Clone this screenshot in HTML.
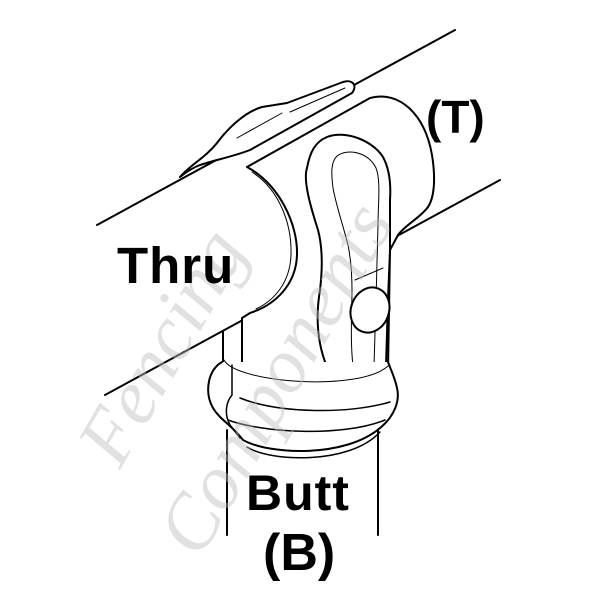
<!DOCTYPE html>
<html><head><style>
html,body{margin:0;padding:0;background:#fff;}
svg{display:block;}
.t{font-family:"Liberation Sans",sans-serif;font-weight:bold;fill:#000;}
</style></head><body>
<svg width="600" height="600" viewBox="0 0 600 600" xmlns="http://www.w3.org/2000/svg">
<g fill="none" stroke="#000" stroke-width="2" stroke-linejoin="round" stroke-linecap="round">
  <!-- butt pipe -->
  <line x1="227" y1="430" x2="227" y2="535"/>
  <line x1="378" y1="425" x2="378" y2="535"/>
  <!-- lower body -->
  <path d="M223 331 L223 370 L388 370 L388 300 L250 300 Z" fill="#fff" stroke="none"/>
  <line x1="223" y1="331" x2="223" y2="368"/>
  <!-- pipe lines -->
  <line x1="97" y1="225" x2="455" y2="30"/>
  <line x1="105" y1="395" x2="500" y2="180"/>
  <!-- sleeve fill -->
  <path d="M247 167 L370 98 C400 90 425 115 432 155 C436 180 434 198 428 207 C420 218 405 225 398 235 L390 250 L388 372 L242 372 L242 318 L250 313 C275 305 296 285 297 255 C298 225 280 185 247 167 Z" fill="#fff" stroke="none"/>
  <!-- sleeve outline -->
  <path d="M242 370 L242 318 L250 313 C275 305 296 285 297 255 C298 225 280 185 247 167 L370 98 C400 90 425 115 432 155 C436 180 434 198 428 207 C420 218 405 225 398 235 L390 250 L388 370"/>
  <path d="M252 172 C280 190 292 225 291 255 C290 282 275 300 256 309" stroke-width="1"/>
  <!-- slot -->
  <path d="M327 137 C345 130 372 140 383 157 C390 170 391 185 390 200 L390 250 L388 300 L386 366 L327 367 C318 345 315 320 320 290 C323 265 322 245 318 230 C310 205 303 180 307 168 C310 152 315 142 327 137 Z" fill="#fff" stroke="none"/>
  <path d="M386 366 L388 300 L390 250 L390 200 C391 185 390 170 383 157 C372 140 345 130 327 137 C315 142 310 152 307 168 C303 180 310 205 318 230 C322 245 323 265 320 290 C315 320 318 345 327 367"/>
  <path d="M337 156 C348 148 368 152 376 168 C381 180 378 205 378 225 L376 300 L374 366 M353 366 C350 340 352 310 352 290 C352 270 350 255 348 245 C343 225 336 205 333 188 C331 172 331 162 337 156" stroke-width="1"/>
  <!-- knob -->
  <ellipse cx="370" cy="310" rx="19" ry="23" transform="rotate(20 370 310)" fill="#fff"/>
  <line x1="355" y1="280" x2="383" y2="268" stroke-width="1"/>
  <!-- ring -->
  <path d="M222 362 C208 370 204 392 213 408 C220 420 232 425 243 440 C270 455 345 458 380 428 C395 416 400 400 397 388 C395 378 391 370 388 362 Z" fill="#fff" stroke="none"/>
  <path d="M222 362 C208 370 204 392 213 408 C220 420 232 425 243 440 C270 455 345 458 380 428 C395 416 400 400 397 388 C395 378 391 370 388 362"/>
  <path d="M224 360 C236 383 360 392 388 366" stroke-width="1"/>
  <path d="M240 398 C280 414 350 414 390 402" stroke-width="1.5"/>
  <path d="M228 420 C260 432 340 438 385 420" stroke-width="1.5"/>
  <path d="M247 447 C270 462 350 465 380 432" stroke-width="1.5"/>
  <path d="M232 365 L232 395 C226 402 224 414 230 425 L240 438" stroke-width="1.5"/>
  <!-- clamp strap on top -->
  <path d="M180 177 C190 165 205 158 217 143 C228 128 245 112 262 107 L287 103 L343 82 C352 79 358 85 352 93 L250 150 C235 156 215 160 200 165 C192 168 185 173 180 177 Z" fill="#fff"/>
  <line x1="237" y1="138" x2="282" y2="113" stroke-width="1"/>
  <line x1="290" y1="112" x2="345" y2="88" stroke-width="1"/>
</g>
<!-- watermark -->
<g fill="#bdbdbd" opacity="0.45" font-family="Liberation Serif,serif" font-style="italic">
  <text x="0" y="0" font-size="78" transform="translate(120,470) rotate(-60)">Fencing</text>
  <text x="0" y="0" font-size="78" transform="translate(200,560) rotate(-60)">Components</text>
</g>
<text class="t" x="117" y="283" font-size="51" letter-spacing="1">Thru</text>
<text class="t" x="426" y="133" font-size="46">(T)</text>
<text class="t" x="246" y="510" font-size="50" letter-spacing="1">Butt</text>
<text class="t" x="263" y="570" font-size="52">(B)</text>
</svg>
</body></html>
